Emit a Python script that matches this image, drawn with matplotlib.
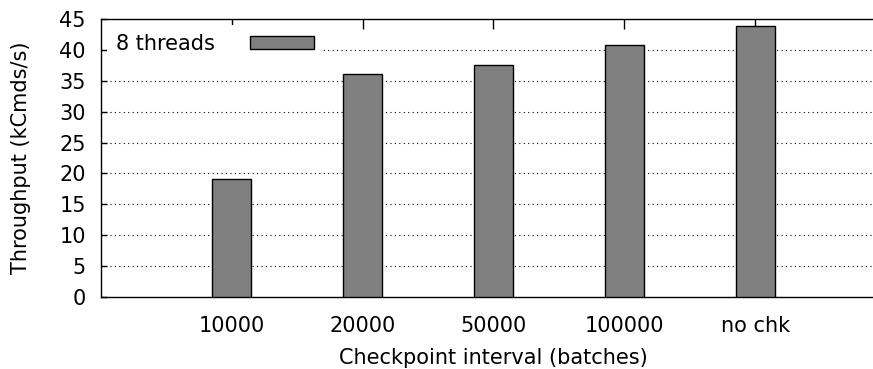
import numpy as np
import matplotlib
matplotlib.use("Agg")
import matplotlib.pyplot as plt

categories = ["10000", "20000", "50000", "100000", "no chk"]
throughput = [19.1, 36.1, 37.5, 40.8, 43.9]
series_name = "8 threads"

plt.rcParams['font.family'] = ['DejaVu Sans']
plt.rcParams['font.size'] = 15

fig = plt.figure(figsize=(8.73, 3.69), dpi=100)
# right edge of the plot box falls outside the picture (cropped like the original)
ax = fig.add_axes([101/873, 1 - 297/369, 785/873, 278/369])

x = np.arange(len(categories))
ax.bar(x, throughput, width=0.3, color="#808080", edgecolor="black",
       linewidth=1.0, label=series_name, zorder=3)

ax.set_xlim(-1, 5)
ax.set_ylim(0, 45)
ax.set_yticks(range(0, 46, 5))
ax.set_xticks(x)
ax.set_xticklabels(categories)

ax.yaxis.grid(True, linestyle=(0, (1, 3)), color="black", linewidth=0.8)
ax.set_axisbelow(True)

ax.tick_params(axis="y", direction="in", length=4, width=1, pad=11)
ax.tick_params(axis="x", direction="in", length=7, width=1, top=True, pad=14)
for s in ["left", "top", "bottom"]:
    ax.spines[s].set_linewidth(1.0)
ax.spines["right"].set_visible(False)

ax.set_ylabel("Throughput (kCmds/s)", labelpad=20)
ax.set_xlabel("Checkpoint interval (batches)", labelpad=8)

leg = ax.legend(loc="upper left", markerfirst=False, frameon=True,
                facecolor="white", edgecolor="none", framealpha=1,
                handlelength=3.1, handleheight=0.58, handletextpad=1.7,
                borderaxespad=0.3, fancybox=False)

fig.savefig("out.png", dpi=100)
